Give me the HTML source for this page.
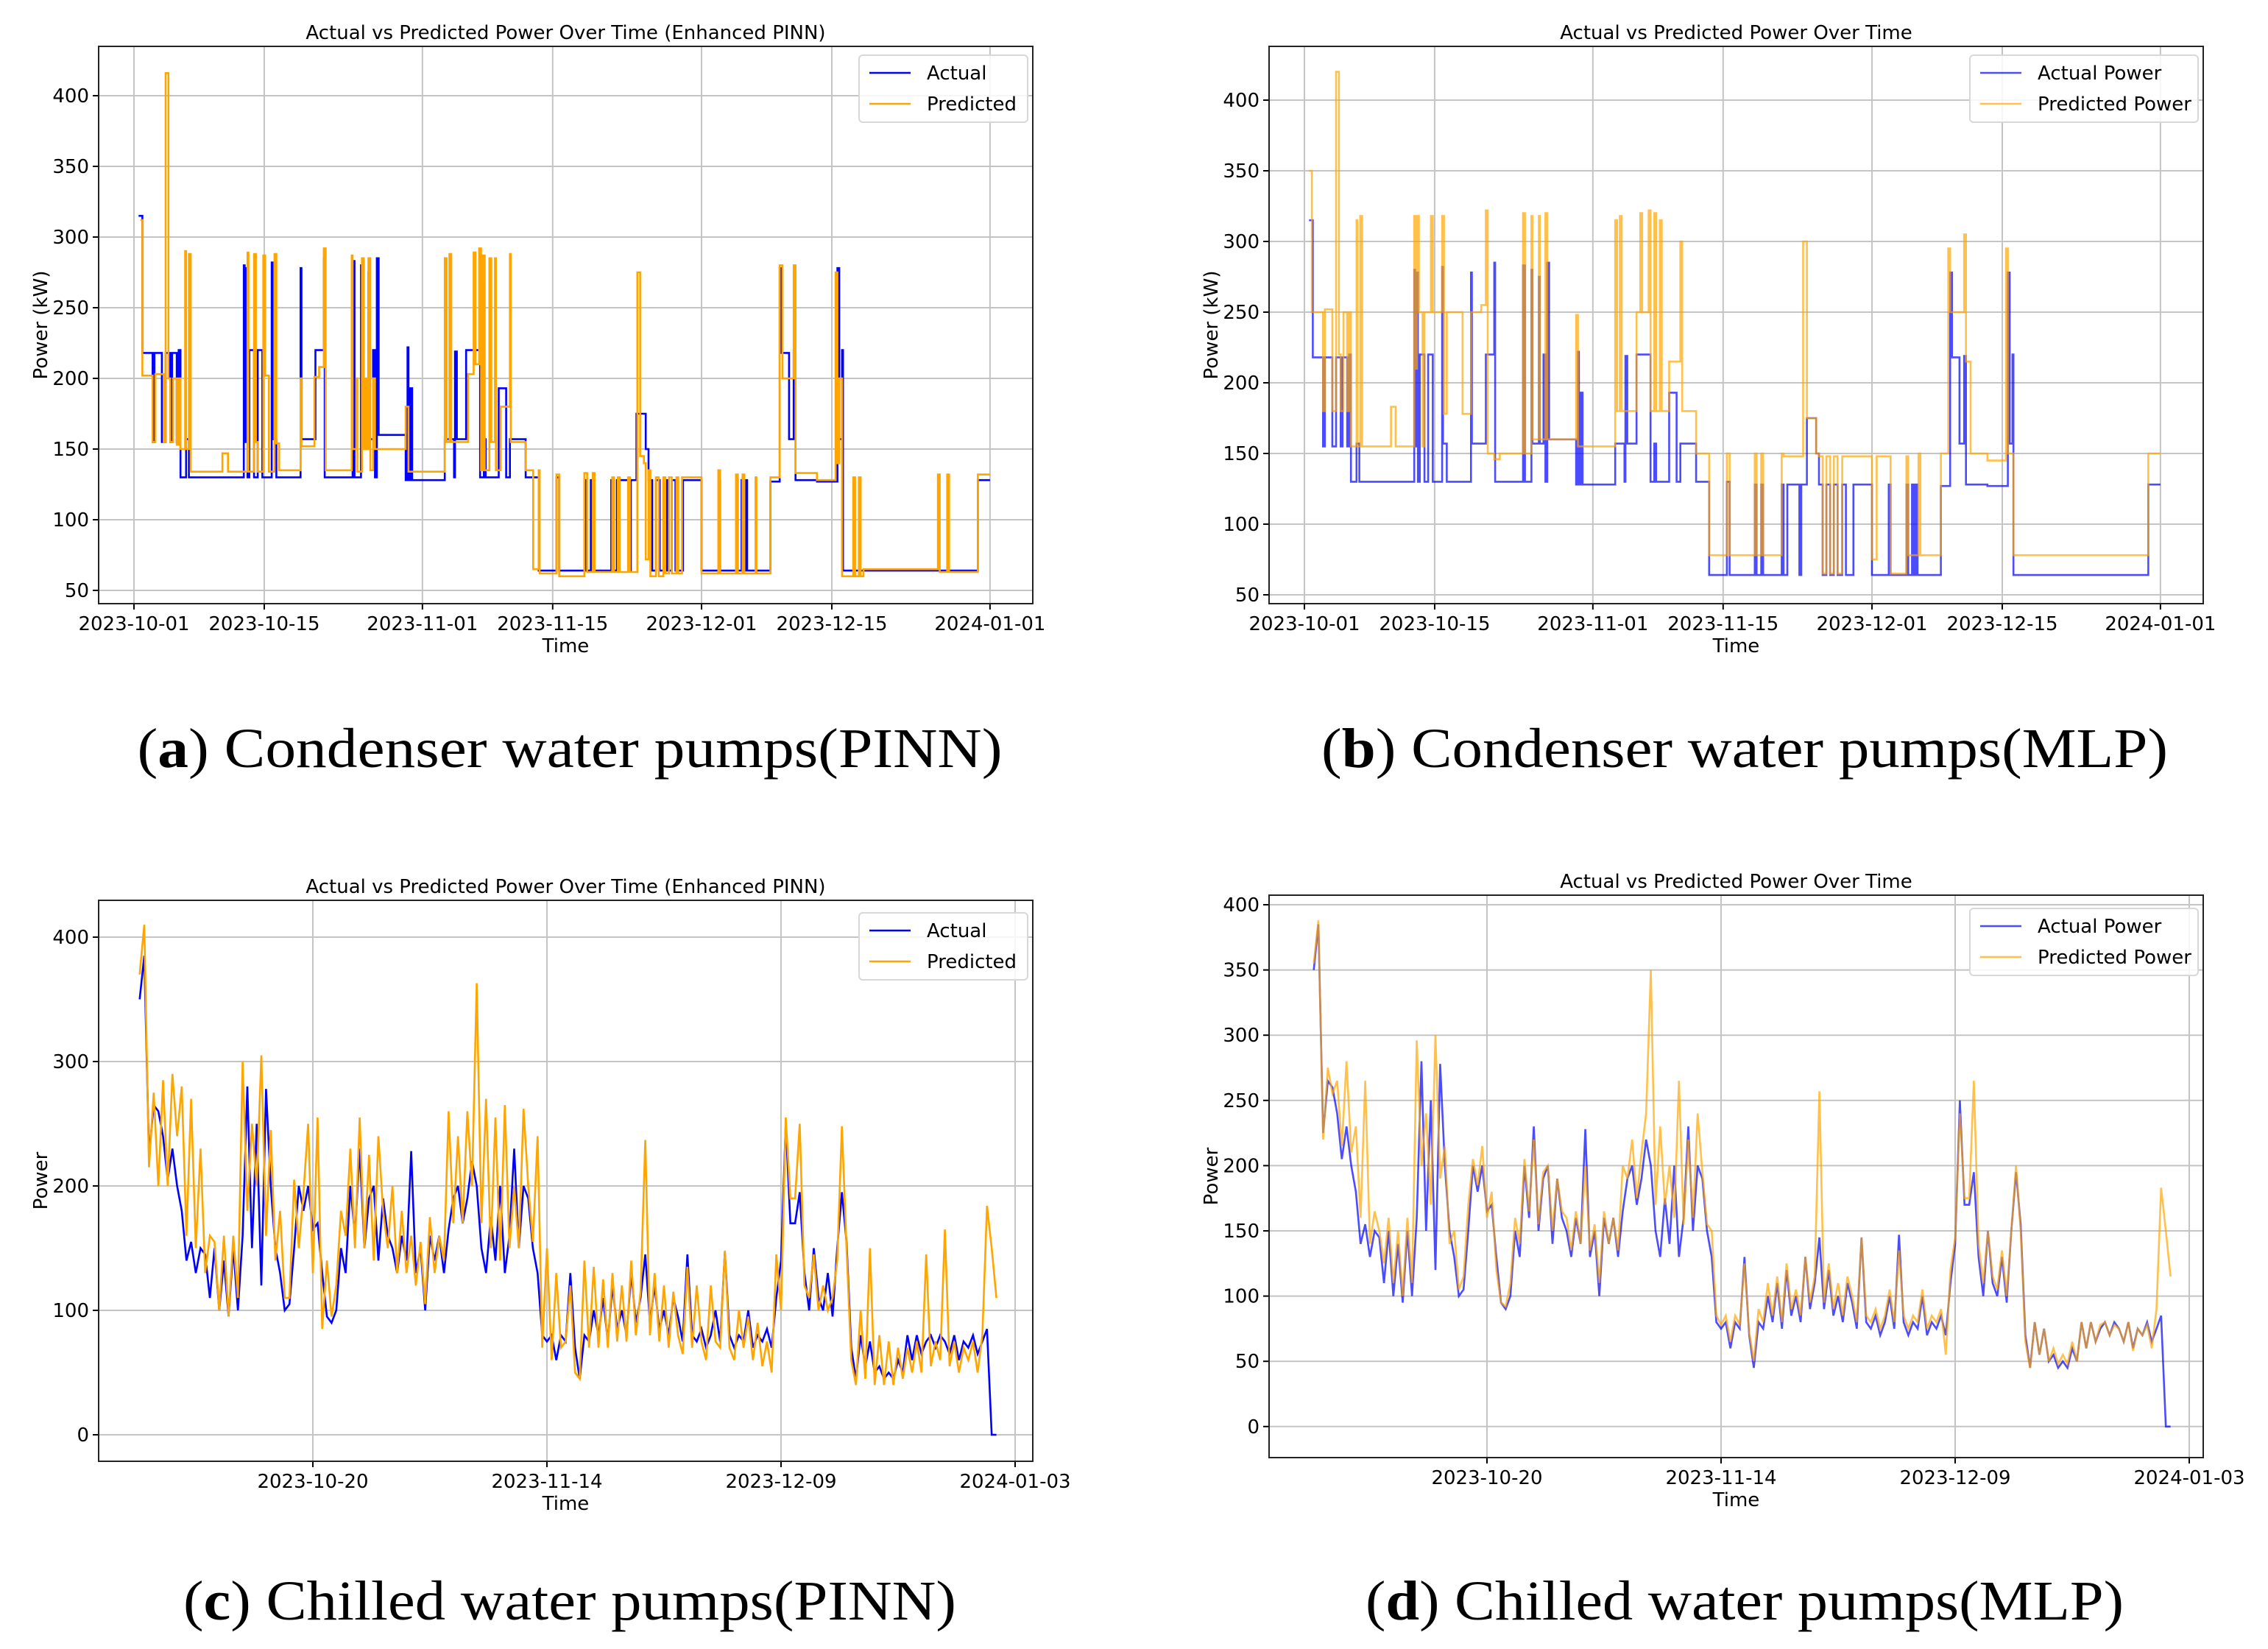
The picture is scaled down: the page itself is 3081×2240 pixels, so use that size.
<!DOCTYPE html>
<html><head><meta charset="utf-8">
<style>
html,body{margin:0;padding:0;background:#fff;}
svg{display:block;}
text{font-family:"DejaVu Sans","Liberation Sans",sans-serif;fill:#000;}
.cap{font-family:"Liberation Serif",serif;}
</style></head>
<body>
<svg id="fig" width="3081" height="2240" viewBox="0 0 3081 2240" xmlns="http://www.w3.org/2000/svg">
<rect width="3081" height="2240" fill="#fff"/>
<text class="cap" x="774" y="1042" font-size="76" text-anchor="middle" textLength="1175" lengthAdjust="spacingAndGlyphs">(<tspan font-weight="bold">a</tspan>) Condenser water pumps(PINN)</text>
<text class="cap" x="2370" y="1042" font-size="76" text-anchor="middle" textLength="1150" lengthAdjust="spacingAndGlyphs">(<tspan font-weight="bold">b</tspan>) Condenser water pumps(MLP)</text>
<text class="cap" x="774" y="2200" font-size="76" text-anchor="middle" textLength="1050" lengthAdjust="spacingAndGlyphs">(<tspan font-weight="bold">c</tspan>) Chilled water pumps(PINN)</text>
<text class="cap" x="2370" y="2200" font-size="76" text-anchor="middle" textLength="1030" lengthAdjust="spacingAndGlyphs">(<tspan font-weight="bold">d</tspan>) Chilled water pumps(MLP)</text>
</svg>
<script>
// ---- Condenser pumps: step series [dayFrom2023-10-01, kW] ----
const condActual = [[0.5,315],[0.9,218],[2.0,155],[2.2,218],[3.0,155],[3.4,218],[3.9,155],[4.1,218],[4.6,155],[4.8,220],[5.0,130],[5.6,157],[5.9,130],
[11.8,280],[11.9,155],[12.0,278],[12.2,130],[12.4,220],[12.9,130],[13.3,220],[13.8,130],[14.8,282],[14.9,157],[15.3,130],[17.9,278],[18.0,157],[19.5,220],[20.4,285],[20.5,130],[23.5,283],[23.7,130],[24.4,280],[24.5,157],[25.2,275],[25.3,157],[25.7,220],[25.9,130],[26.1,285],[26.3,160],[29.2,128],[29.4,222],[29.5,128],[29.7,193],[29.9,128],[33.4,157],[34.4,130],[34.5,219],[34.7,157],[35.7,220],[37.2,130],[37.6,157],[37.8,130],[39.2,193],[40.0,130],[40.4,157],[42.1,130],[43.5,64],[45.4,130],[45.7,64],[48.4,128],[48.6,64],[49.1,128],[49.3,64],[51.3,128],[51.5,64],[51.9,128],[53.2,64],[53.4,128],[54.0,175],[55.0,150],[55.3,128],[55.7,64],[56.1,128],[56.5,64],[56.9,128],[57.3,64],[57.8,128],[58.2,64],[59.0,128],[61.0,64],[62.8,128],[63.0,64],[64.7,128],[64.9,64],[65.3,128],[65.5,64],[65.7,128],[65.9,64],[68.4,127],[69.4,278],[69.6,218],[70.4,157],[70.9,219],[71.1,128],[73.4,127],[75.6,278],[75.8,157],[76.1,220],[76.2,64],[90.7,128],[92,128]];
const condPredPINN = [[0.7,312],[0.9,202],[2.0,155],[2.3,203],[3.2,155],[3.4,416],[3.7,200],[3.9,155],[4.2,200],[4.6,153],[4.8,200],[5.0,150],[5.5,290],[5.6,150],[5.9,288],[6.1,134],[9.5,147],[10.1,134],[12.2,289],[12.3,134],[12.9,288],[13.1,155],[13.3,134],[13.9,287],[14.1,202],[14.5,134],[15.1,288],[15.3,154],[15.6,135],[17.9,200],[18.0,152],[19.4,201],[19.9,208],[20.4,292],[20.6,135],[23.4,287],[23.5,150],[23.9,200],[24.0,134],[24.5,285],[24.7,150],[24.9,200],[25.0,150],[25.2,285],[25.4,135],[25.7,200],[25.9,150],[29.2,180],[29.5,134],[33.4,285],[33.6,155],[33.9,288],[34.1,155],[35.9,203],[36.5,289],[36.7,210],[37.1,292],[37.3,135],[37.5,287],[37.7,135],[38.2,285],[38.4,155],[38.8,285],[38.9,135],[39.4,180],[40.4,288],[40.5,155],[42.1,135],[42.9,65],[43.5,135],[43.6,62],[45.4,132],[45.7,60],[48.4,133],[48.7,63],[49.3,133],[49.5,63],[51.4,130],[51.6,63],[52.0,130],[52.2,63],[53.1,130],[53.3,63],[54.1,275],[54.4,145],[54.8,140],[55.0,72],[55.3,135],[55.5,60],[56.1,130],[56.4,60],[56.9,130],[57.1,62],[57.5,130],[57.8,62],[58.3,130],[58.5,62],[58.9,130],[61.0,62],[62.8,135],[63.0,62],[64.7,132],[64.9,62],[65.4,132],[65.6,62],[66.8,130],[66.9,62],[68.4,130],[69.4,280],[69.7,200],[70.9,280],[71.1,133],[73.4,128],[75.4,275],[75.6,140],[75.8,200],[76.1,60],[77.3,130],[77.5,60],[77.9,130],[78.1,60],[78.4,65],[86.4,132],[86.6,63],[87.4,132],[87.6,63],[90.7,132],[92,132]];
const condPredMLP = [[0.5,350],[0.8,250],[2.0,180],[2.2,252],[3.0,180],[3.4,420],[3.7,220],[3.9,180],[4.2,250],[4.6,180],[4.8,250],[5.0,155],[5.6,315],[5.7,155],[6.0,318],[6.2,155],[9.3,183],[9.8,155],[11.8,318],[11.9,210],[12.1,318],[12.3,250],[12.7,155],[12.9,250],[13.6,318],[13.8,250],[14.8,318],[15.0,178],[15.3,250],[17.0,178],[17.9,250],[19.0,255],[19.5,322],[19.7,150],[20.4,146],[21.0,150],[23.5,320],[23.7,150],[24.4,318],[24.5,160],[25.2,318],[25.3,160],[25.9,320],[26.1,160],[29.2,248],[29.4,155],[33.4,315],[33.6,180],[33.9,318],[34.1,180],[35.7,250],[36.1,320],[36.3,250],[37.0,322],[37.2,180],[37.6,320],[37.8,180],[38.2,315],[38.4,180],[39.2,215],[40.4,300],[40.6,180],[42.1,150],[43.5,78],[45.4,150],[45.7,78],[48.4,150],[48.6,78],[49.1,150],[49.3,78],[51.3,150],[51.5,148],[53.6,300],[54.0,175],[55.0,150],[55.3,148],[55.7,65],[56.1,148],[56.5,65],[56.9,148],[57.3,65],[57.8,148],[59.0,148],[61.0,75],[61.5,148],[62.8,148],[63.0,65],[64.7,148],[64.9,78],[66.0,150],[66.2,78],[68.4,150],[69.2,295],[69.4,250],[70.4,250],[70.9,305],[71.1,215],[71.6,150],[73.4,145],[75.4,295],[75.6,150],[76.2,78],[90.7,150],[92,150]];

// ---- Chilled pumps: values every 0.5 day starting day 0.5 ----
const chillActual = [350,385,225,265,260,240,205,230,200,180,140,155,130,150,145,110,150,100,140,95,150,100,
160,280,150,250,120,278,200,150,130,100,105,150,200,180,200,165,170,130,95,90,100,150,
130,200,160,230,150,190,200,140,190,160,150,130,160,140,228,130,150,100,160,140,160,130,165,190,200,170,190,220,200,150,
130,175,140,200,130,160,230,150,200,190,150,130,80,75,80,60,80,75,130,70,45,80,
75,100,80,110,75,120,85,100,80,130,90,110,145,90,120,85,100,80,110,95,75,145,80,75,85,70,80,100,75,147,80,70,80,75,100,70,80,75,85,70,
110,140,250,170,170,195,130,100,150,110,100,130,95,150,195,155,70,45,80,55,75,50,55,45,50,45,60,50,80,
60,80,65,75,80,70,80,75,65,80,60,75,70,80,65,75,85,0,0];
const chillPredPINN = [370,410,215,275,200,285,200,290,240,280,160,270,150,230,130,160,155,100,160,95,160,110,300,180,250,200,305,160,245,140,180,110,110,205,150,195,250,130,255,85,140,95,120,180,160,230,150,255,150,225,140,240,180,150,200,130,180,130,160,120,155,105,175,130,160,140,260,170,240,170,260,200,363,170,270,150,255,140,265,150,200,150,262,200,155,240,70,150,60,130,70,75,120,50,45,140,70,135,70,125,70,130,75,120,75,140,80,115,237,80,130,75,120,70,115,80,65,135,70,120,75,60,120,75,70,148,70,60,100,70,95,60,90,55,75,50,
145,100,255,190,190,250,120,110,145,100,120,100,110,140,248,150,60,40,100,45,150,40,80,40,75,40,70,45,70,50,75,50,145,55,75,60,165,55,75,50,70,60,75,50,80,184,150,110];
const chillPredMLP = [355,388,220,275,255,265,215,280,210,230,160,265,140,165,150,125,160,110,150,100,160,110,296,200,240,170,300,190,215,140,150,105,115,170,205,185,215,160,180,120,95,92,110,160,140,205,165,220,155,195,200,150,190,165,160,135,165,140,200,135,155,110,165,140,160,135,200,190,220,175,210,240,350,170,230,170,200,160,265,155,220,160,240,195,155,150,85,78,85,65,85,78,125,72,50,90,80,110,85,115,80,125,90,105,85,130,95,115,257,95,125,90,110,85,115,100,80,145,85,80,90,75,85,105,80,135,85,75,85,80,105,75,85,80,90,55,
120,145,240,175,175,265,140,110,150,115,105,135,100,150,200,150,65,45,80,55,75,50,60,48,55,48,65,50,80,60,80,65,78,80,70,78,75,65,80,58,75,70,78,60,90,183,150,115];

// ---- tick definitions ----
const condYTicks = [50,100,150,200,250,300,350,400];
const condXTickDays = [0,14,31,45,61,75,92];
const condXTickLabels = ["2023-10-01","2023-10-15","2023-11-01","2023-11-15","2023-12-01","2023-12-15","2024-01-01"];
const chillPINNYTicks = [0,100,200,300,400];
const chillMLPYTicks = [0,50,100,150,200,250,300,350,400];
const chillXTickDays = [19,44,69,94];
const chillXTickLabels = ["2023-10-20","2023-11-14","2023-12-09","2024-01-03"];

const NS = "http://www.w3.org/2000/svg";
const svg = document.getElementById("fig");
function mk(tag, attrs, parent){const e=document.createElementNS(NS,tag);for(const k in attrs)e.setAttribute(k,attrs[k]);(parent||svg).appendChild(e);return e;}

function panel(p){
  const g = mk("g",{});
  
  
  const X = d => p.x0 + (d - p.d0) * p.xs;
  const Y = v => p.y0 + (p.v0 - v) * p.ys;
  // grid
  p.yTicks.forEach(v=>{
    const l = mk("line",{x1:p.L,x2:p.R,y1:Y(v),y2:Y(v),stroke:"#c4c4c4","stroke-width":2},g);
    
    
    mk("line",{x1:p.L-8,x2:p.L,y1:Y(v),y2:Y(v),stroke:"#000","stroke-width":2},g);
    const t = mk("text",{x:p.L-13,y:Y(v)+9,"font-size":26,"text-anchor":"end"},g);
    t.textContent = v;
    
    
  });
  p.xTicks.forEach((d,i)=>{
    const l = mk("line",{x1:X(d),x2:X(d),y1:p.T,y2:p.B,stroke:"#c4c4c4","stroke-width":2},g);
    
    
    mk("line",{x1:X(d),x2:X(d),y1:p.B,y2:p.B+8,stroke:"#000","stroke-width":2},g);
    const t = mk("text",{x:X(d),y:p.B+36,"font-size":26,"text-anchor":"middle"},g);
    t.textContent = p.xLabels[i];
    
    
  });
  // series
  p.series.forEach(s=>{
    let d="";
    if(s.step){
      s.data.forEach((pt,i)=>{ d += i===0 ? `M${X(pt[0]).toFixed(1)},${Y(pt[1]).toFixed(1)}` : `H${X(pt[0]).toFixed(1)}V${Y(pt[1]).toFixed(1)}`; });
    } else {
      s.data.forEach((v,i)=>{ d += (i===0?"M":"L") + X(0.5*(i+1)).toFixed(1) + "," + Y(v).toFixed(1); });
    }
    const path = mk("path",{d:d,fill:"none",stroke:s.color,"stroke-width":2.6,"stroke-opacity":s.op,"stroke-linejoin":"miter"},g);
    
    
  });
  // frame
  const fr = mk("rect",{x:p.L,y:p.T,width:p.R-p.L,height:p.B-p.T,fill:"none",stroke:"#222","stroke-width":2},g);
  
  
  // titles
  const ti = mk("text",{x:(p.L+p.R)/2,y:p.T-10,"font-size":26,"text-anchor":"middle"},g);
  ti.textContent = p.title;
  
  
  const xl = mk("text",{x:(p.L+p.R)/2,y:p.B+66,"font-size":26,"text-anchor":"middle"},g);
  xl.textContent = "Time";
  
  
  const yc = (p.T+p.B)/2;
  const yl = mk("text",{x:p.L-70,y:yc,"font-size":26,"text-anchor":"middle",transform:`rotate(-90 ${p.L-70} ${yc})`},g);
  yl.textContent = p.yLabel;
  
  
  // legend
  const lg = mk("g",{},g);
  
  
  mk("rect",{x:p.lgX,y:p.lgY,width:p.lgW,height:91,rx:5,fill:"#fff","fill-opacity":0.85,stroke:"#d8d8d8","stroke-width":2},lg);
  p.series.forEach((s,i)=>{
    const cy = p.lgY + 24 + i*42;
    mk("line",{x1:p.lgX+14,x2:p.lgX+70,y1:cy,y2:cy,stroke:s.color,"stroke-width":2.6,"stroke-opacity":s.op},lg);
    const t = mk("text",{x:p.lgX+92,y:cy+9,"font-size":26},lg);
    t.textContent = s.label;
    
    
  });
}

panel({id:"condenser-pinn",L:134,R:1403,T:63,B:820,x0:182,d0:0,xs:12.64,y0:130,v0:400,ys:1.92,
  yTicks:condYTicks,xTicks:condXTickDays,xLabels:condXTickLabels,
  title:"Actual vs Predicted Power Over Time (Enhanced PINN)",yLabel:"Power (kW)",lgX:1167,lgY:75,lgW:229,
  series:[{name:"actual-line",label:"Actual",data:condActual,step:true,color:"#0000ff",op:1},
          {name:"predicted-line",label:"Predicted",data:condPredPINN,step:true,color:"#ffa500",op:1}]});
panel({id:"condenser-mlp",L:1724,R:2993,T:63,B:820,x0:1772,d0:0,xs:12.64,y0:136,v0:400,ys:1.92,
  yTicks:condYTicks,xTicks:condXTickDays,xLabels:condXTickLabels,
  title:"Actual vs Predicted Power Over Time",yLabel:"Power (kW)",lgX:2676,lgY:75,lgW:310,
  series:[{name:"actual-power-line",label:"Actual Power",data:condActual,step:true,color:"#0000ff",op:0.7},
          {name:"predicted-power-line",label:"Predicted Power",data:condPredMLP,step:true,color:"#ffa500",op:0.7}]});
panel({id:"chilled-pinn",L:134,R:1403,T:1223,B:1985,x0:425,d0:19,xs:12.72,y0:1273,v0:400,ys:1.69,
  yTicks:chillPINNYTicks,xTicks:chillXTickDays,xLabels:chillXTickLabels,
  title:"Actual vs Predicted Power Over Time (Enhanced PINN)",yLabel:"Power",lgX:1167,lgY:1240,lgW:229,
  series:[{name:"actual-line",label:"Actual",data:chillActual,step:false,color:"#0000ff",op:1},
          {name:"predicted-line",label:"Predicted",data:chillPredPINN,step:false,color:"#ffa500",op:1}]});
panel({id:"chilled-mlp",L:1724,R:2993,T:1216,B:1980,x0:2020,d0:19,xs:12.72,y0:1229,v0:400,ys:1.772,
  yTicks:chillMLPYTicks,xTicks:chillXTickDays,xLabels:chillXTickLabels,
  title:"Actual vs Predicted Power Over Time",yLabel:"Power",lgX:2676,lgY:1234,lgW:310,
  series:[{name:"actual-power-line",label:"Actual Power",data:chillActual,step:false,color:"#0000ff",op:0.7},
          {name:"predicted-power-line",label:"Predicted Power",data:chillPredMLP,step:false,color:"#ffa500",op:0.7}]});
</script>
</body></html>
